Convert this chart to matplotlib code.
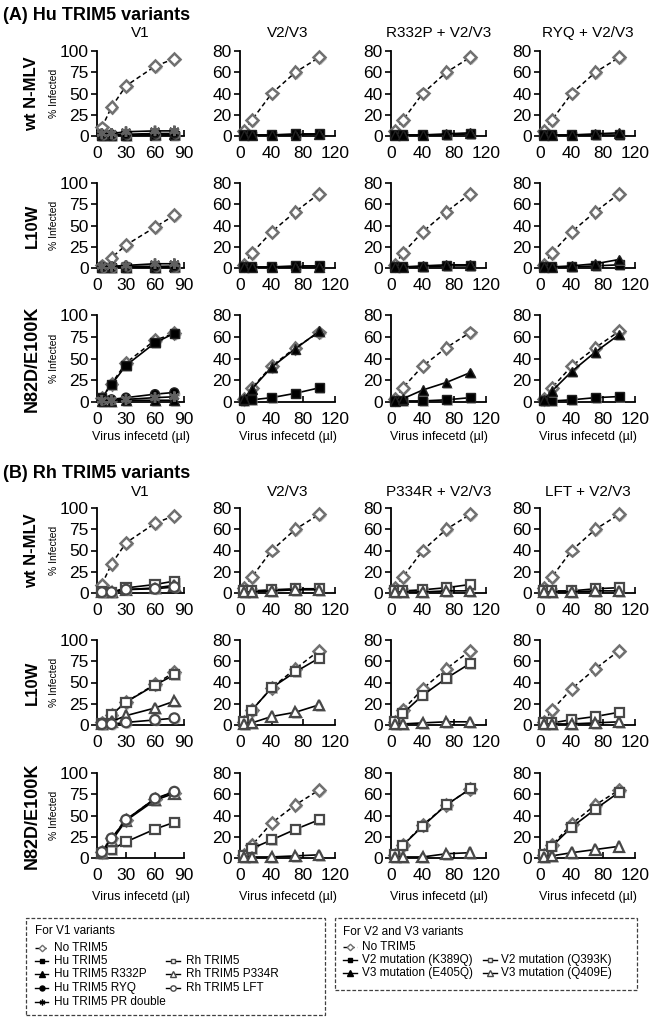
import matplotlib
matplotlib.use('Agg')
import matplotlib.pyplot as plt
from matplotlib.lines import Line2D
from matplotlib.patches import Rectangle
import matplotlib.patheffects as pe

plt.rcParams['font.family'] = ['Liberation Sans', 'DejaVu Sans']

# ---------------- data ----------------
x_v1 = [5, 15, 30, 60, 80]
x_v23 = [5, 15, 40, 70, 100]

v1_ticks = [0, 30, 60, 90]
v23_ticks = [0, 40, 80, 120]
v1_yticks = [0, 25, 50, 75, 100]
v23_yticks = [0, 20, 40, 60, 80]

titles_A = ["V1", "V2/V3", "R332P + V2/V3", "RYQ + V2/V3"]
titles_B = ["V1", "V2/V3", "P334R + V2/V3", "LFT + V2/V3"]
row_labels = ["wt N-MLV", "L10W", "N82D/E100K"]
x_label = "Virus infecetd (µl)"
y_label = "% Infected"

# (A) Hu TRIM5 variants
a_wt_v1 = {'none': [10, 34, 59, 82, 91], 'hu': [1, 1, 1, 1, 1], 'hu_r332p': [1, 1, 1, 2, 2],
           'hu_ryq': [2, 2, 2, 3, 3], 'hu_pr': [3, 3, 5, 6, 6]}
a_wt_v23 = {'none': [5, 15, 40, 60, 74], 'v2_k389q': [1, 1, 1, 2, 2], 'v3_e405q': [1, 1, 1, 1, 2]}
a_wt_r332p = {'none': [5, 15, 40, 60, 74], 'v2_k389q': [1, 1, 1, 1, 2], 'v3_e405q': [1, 1, 1, 2, 3]}
a_wt_ryq = {'none': [5, 15, 40, 60, 74], 'v2_k389q': [1, 1, 1, 1, 1], 'v3_e405q': [1, 1, 1, 2, 3]}

a_l10w_v1 = {'none': [3, 12, 27, 48, 62], 'hu': [1, 1, 1, 1, 1], 'hu_r332p': [1, 1, 1, 1, 2],
             'hu_ryq': [1, 1, 2, 2, 2], 'hu_pr': [2, 2, 3, 5, 5]}
a_l10w_v23 = {'none': [3, 14, 34, 53, 70], 'v2_k389q': [1, 1, 1, 2, 2], 'v3_e405q': [1, 1, 1, 1, 1]}
a_l10w_r332p = {'none': [3, 14, 34, 53, 70], 'v2_k389q': [1, 1, 1, 2, 2], 'v3_e405q': [1, 1, 2, 3, 3]}
a_l10w_ryq = {'none': [3, 14, 34, 53, 70], 'v2_k389q': [1, 1, 1, 2, 3], 'v3_e405q': [1, 1, 2, 4, 8]}

a_n82d_v1 = {'none': [5, 21, 45, 71, 79], 'hu': [5, 20, 42, 68, 79], 'hu_r332p': [1, 1, 2, 2, 2],
             'hu_ryq': [3, 3, 5, 9, 11], 'hu_pr': [2, 2, 3, 5, 6]}
a_n82d_v23 = {'none': [3, 13, 33, 50, 64], 'v2_k389q': [1, 2, 4, 8, 13], 'v3_e405q': [3, 12, 32, 49, 65]}
a_n82d_r332p = {'none': [3, 13, 33, 50, 64], 'v2_k389q': [1, 1, 1, 2, 4], 'v3_e405q': [1, 3, 11, 18, 27]}
a_n82d_ryq = {'none': [3, 13, 33, 50, 65], 'v2_k389q': [1, 1, 2, 4, 5], 'v3_e405q': [2, 10, 28, 46, 62]}

# (B) Rh TRIM5 variants
b_wt_v1 = {'none': [10, 34, 59, 82, 91], 'rh': [2, 1, 6, 10, 14], 'rh_p334r': [1, 1, 4, 6, 9],
           'rh_lft': [1, 1, 4, 5, 7]}
b_wt_v23 = {'none': [5, 15, 40, 60, 74], 'v2_q393k': [2, 2, 3, 4, 4], 'v3_q409e': [1, 1, 2, 3, 3]}
b_wt_p334r = {'none': [5, 15, 40, 60, 74], 'v2_q393k': [2, 2, 3, 5, 8], 'v3_q409e': [1, 1, 1, 2, 2]}
b_wt_lft = {'none': [5, 15, 40, 60, 74], 'v2_q393k': [2, 2, 2, 4, 5], 'v3_q409e': [1, 1, 1, 2, 2]}

b_l10w_v1 = {'none': [3, 12, 27, 48, 62], 'rh': [2, 12, 27, 47, 59], 'rh_p334r': [1, 4, 11, 20, 28],
             'rh_lft': [1, 1, 3, 6, 8]}
b_l10w_v23 = {'none': [3, 14, 35, 53, 70], 'v2_q393k': [3, 14, 35, 50, 63], 'v3_q409e': [1, 2, 8, 12, 19]}
b_l10w_p334r = {'none': [3, 14, 34, 53, 70], 'v2_q393k': [3, 11, 28, 44, 58], 'v3_q409e': [1, 1, 2, 3, 3]}
b_l10w_lft = {'none': [3, 14, 34, 53, 70], 'v2_q393k': [2, 2, 5, 8, 12], 'v3_q409e': [1, 1, 1, 2, 3]}

b_n82d_v1 = {'none': [7, 23, 45, 70, 77], 'rh': [5, 10, 19, 34, 42], 'rh_p334r': [6, 20, 44, 68, 76],
             'rh_lft': [7, 23, 45, 70, 78]}
b_n82d_v23 = {'none': [3, 12, 33, 50, 64], 'v2_q393k': [2, 9, 17, 27, 36], 'v3_q409e': [1, 1, 1, 2, 3]}
b_n82d_p334r = {'none': [3, 12, 31, 50, 65], 'v2_q393k': [3, 12, 30, 50, 65], 'v3_q409e': [1, 1, 1, 4, 5]}
b_n82d_lft = {'none': [3, 12, 32, 50, 64], 'v2_q393k': [3, 11, 29, 46, 62], 'v3_q409e': [1, 2, 5, 8, 11]}

legend_v1_col1 = ["No TRIM5", "Hu TRIM5", "Hu TRIM5 R332P", "Hu TRIM5 RYQ", "Hu TRIM5 PR double"]
legend_v1_col2 = ["Rh TRIM5", "Rh TRIM5 P334R", "Rh TRIM5 LFT"]
legend_v23_col1 = ["No TRIM5", "V2 mutation (K389Q)", "V3 mutation (E405Q)"]
legend_v23_col2 = ["V2 mutation (Q393K)", "V3 mutation (Q409E)"]

# ---------------- styles ----------------
GRAY = '#707070'
OPEN = '#484848'
styles = {
    'none': dict(marker='D', ms=6, mfc='white', mec=GRAY, mew=1.8, ls=(0, (3, 2)), color='black', lw=1.1),
    'hu': dict(marker='s', ms=6.5, mfc='black', mec='#202020', mew=1, ls='-', color='black', lw=1.2),
    'hu_r332p': dict(marker='^', ms=7, mfc='black', mec='#202020', mew=1, ls='-', color='black', lw=1.2),
    'hu_ryq': dict(marker='o', ms=6.5, mfc='black', mec='#202020', mew=1, ls='-', color='black', lw=1.2),
    'hu_pr': dict(marker=(6, 2, 0), ms=7.5, mfc='#606060', mec='#606060', mew=1.8, ls='-', color='black', lw=1.2),
    'rh': dict(marker='s', ms=6.5, mfc='white', mec=OPEN, mew=1.6, ls='-', color='black', lw=1.2),
    'rh_p334r': dict(marker='^', ms=7.5, mfc='white', mec=OPEN, mew=1.6, ls='-', color='black', lw=1.2),
    'rh_lft': dict(marker='o', ms=7, mfc='white', mec=OPEN, mew=1.6, ls='-', color='black', lw=1.2),
    'v2_k389q': dict(marker='s', ms=6.5, mfc='black', mec='#202020', mew=1, ls='-', color='black', lw=1.2),
    'v3_e405q': dict(marker='^', ms=7, mfc='black', mec='#202020', mew=1, ls='-', color='black', lw=1.2),
    'v2_q393k': dict(marker='s', ms=6.5, mfc='white', mec=OPEN, mew=1.6, ls='-', color='black', lw=1.2),
    'v3_q409e': dict(marker='^', ms=7.5, mfc='white', mec=OPEN, mew=1.6, ls='-', color='black', lw=1.2),
}
shadow = [pe.SimplePatchShadow(offset=(1.2, -1.2), shadow_rgbFace='#9a9a9a', alpha=0.6), pe.Normal()]

# ---------------- layout ----------------
W, H = 650, 1018
fig = plt.figure(figsize=(W / 100, H / 100), dpi=100)


def fx(x):
    return x / W


def fy(y):
    return 1 - y / H


col_px = [(97, 184), (240, 335), (391, 486), (540, 635)]
rows_A = [(51, 136), (183, 268), (315, 402)]
rows_B = [(508, 593), (640, 725), (773, 858)]

panels_A = [[a_wt_v1, a_wt_v23, a_wt_r332p, a_wt_ryq],
            [a_l10w_v1, a_l10w_v23, a_l10w_r332p, a_l10w_ryq],
            [a_n82d_v1, a_n82d_v23, a_n82d_r332p, a_n82d_ryq]]
panels_B = [[b_wt_v1, b_wt_v23, b_wt_p334r, b_wt_lft],
            [b_l10w_v1, b_l10w_v23, b_l10w_p334r, b_l10w_lft],
            [b_n82d_v1, b_n82d_v23, b_n82d_p334r, b_n82d_lft]]


def draw_section(rows, panels, titles, section_title, title_y, coltitle_y, xlabel_y):
    fig.text(fx(3), fy(title_y), section_title, fontsize=13, fontweight='bold', ha='left', va='center')
    for ci, (x0, x1) in enumerate(col_px):
        fig.text(fx((x0 + x1) / 2), fy(coltitle_y), titles[ci], fontsize=11, ha='center', va='center')
        fig.text(fx((x0 + x1) / 2), fy(xlabel_y), x_label, fontsize=9, ha='center', va='center')
    for ri, (y0, y1) in enumerate(rows):
        fig.text(fx(32), fy((y0 + y1) / 2), row_labels[ri], fontsize=13 if ri == 2 else 12,
                 fontweight='bold', rotation=90, ha='center', va='center')
        fig.text(fx(54), fy((y0 + y1) / 2), y_label, fontsize=7.5, rotation=90, ha='center', va='center')
        for ci, (x0, x1) in enumerate(col_px):
            ax = fig.add_axes([fx(x0), fy(y1), (x1 - x0) / W, (y1 - y0) / H])
            data = panels[ri][ci]
            xs = x_v1 if ci == 0 else x_v23
            for zi, (key, vals) in enumerate(data.items()):
                st = styles[key]
                ax.plot(xs, vals, linestyle=st['ls'], color=st['color'], lw=st['lw'],
                        zorder=3 + 2 * zi, clip_on=False)
                ax.plot(xs, vals, linestyle='none',
                        marker=st['marker'], ms=st['ms'], mfc=st['mfc'], mec=st['mec'],
                        mew=st['mew'], zorder=4 + 2 * zi, clip_on=False, path_effects=shadow)
            if ci == 0:
                ax.set_xlim(0, 90)
                ax.set_ylim(0, 100)
                ax.set_xticks(v1_ticks)
                ax.set_yticks(v1_yticks)
            else:
                ax.set_xlim(0, 120)
                ax.set_ylim(0, 80)
                ax.set_xticks(v23_ticks)
                ax.set_yticks(v23_yticks)
            for s in ['top', 'right']:
                ax.spines[s].set_visible(False)
            for s in ['left', 'bottom']:
                ax.spines[s].set_linewidth(1.3)
            ax.tick_params(axis='y', direction='out', length=4, width=1.2, pad=2, labelsize=12.5)
            ax.tick_params(axis='x', direction='in', length=4, width=1.2, pad=7, labelsize=12.5)
            ax.patch.set_alpha(0)


draw_section(rows_A, panels_A, titles_A, "(A) Hu TRIM5 variants", 15, 33, 437)
draw_section(rows_B, panels_B, titles_B, "(B) Rh TRIM5 variants", 473, 492, 897)


# ---------------- legends ----------------
def legend_entry(xa, xb, y, key, label, xt):
    st = styles[key]
    fig.add_artist(Line2D([fx(xa), fx(xb)], [fy(y), fy(y)], linestyle=st['ls'], color='black',
                          lw=1.0, transform=fig.transFigure))
    fig.add_artist(Line2D([fx((xa + xb) / 2)], [fy(y)], linestyle='none', marker=st['marker'],
                          ms=st['ms'] * 0.55, mfc=st['mfc'], mec=st['mec'] if st['mfc'] == 'white' else 'black',
                          mew=1.0, transform=fig.transFigure))
    fig.text(fx(xt), fy(y), label, fontsize=8.5, ha='left', va='center')


fig.add_artist(Rectangle((fx(26), fy(1015)), (325 - 26) / W, (1015 - 918) / H, fill=False,
                         ls=(0, (3, 1.5)), lw=0.9, edgecolor='#404040', transform=fig.transFigure))
fig.text(fx(35), fy(931), "For V1 variants", fontsize=8.5, ha='left', va='center')
keys_v1_c1 = ['none', 'hu', 'hu_r332p', 'hu_ryq', 'hu_pr']
keys_v1_c2 = ['rh', 'rh_p334r', 'rh_lft']
ys_left = [948, 961, 974, 988, 1002]
for k, lab, y in zip(keys_v1_c1, legend_v1_col1, ys_left):
    legend_entry(35, 48, y, k, lab, 54)
for k, lab, y in zip(keys_v1_c2, legend_v1_col2, ys_left[1:4]):
    legend_entry(166, 180, y, k, lab, 186)

fig.add_artist(Rectangle((fx(335), fy(990)), (637 - 335) / W, (990 - 918) / H, fill=False,
                         ls=(0, (3, 1.5)), lw=0.9, edgecolor='#404040', transform=fig.transFigure))
fig.text(fx(343), fy(932), "For V2 and V3 variants", fontsize=8.5, ha='left', va='center')
keys_v23_c1 = ['none', 'v2_k389q', 'v3_e405q']
keys_v23_c2 = ['v2_q393k', 'v3_q409e']
ys_right = [947, 960, 973]
for k, lab, y in zip(keys_v23_c1, legend_v23_col1, ys_right):
    legend_entry(343, 357, y, k, lab, 362)
for k, lab, y in zip(keys_v23_c2, legend_v23_col2, ys_right[1:]):
    legend_entry(483, 497, y, k, lab, 501)

fig.savefig('out.png', dpi=100)
